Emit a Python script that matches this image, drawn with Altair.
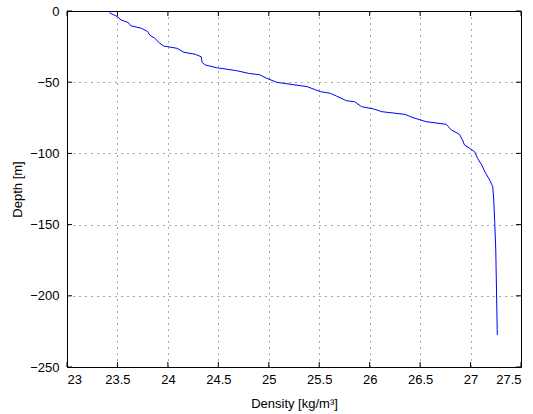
import altair as alt
import pandas as pd

# Density profile: potential density (kg/m^3) against depth (m, negative downward)
density = [
    23.42, 23.50, 23.535, 23.61, 23.63, 23.74, 23.80, 23.82, 23.87, 23.92,
    23.96, 24.09, 24.16, 24.27, 24.33, 24.34, 24.37, 24.48, 24.68, 24.80,
    24.91, 24.98, 25.08, 25.38, 25.51, 25.61, 25.67, 25.77, 25.85, 25.92,
    26.04, 26.12, 26.35, 26.43, 26.56, 26.76, 26.81, 26.89, 26.92, 26.94,
    26.99, 27.04, 27.07, 27.11, 27.15, 27.19, 27.22, 27.23, 27.24, 27.25,
    27.26, 27.265,
]
depth = [
    -1.2, -4.0, -6.3, -8.2, -10.3, -12.2, -14.5, -16.9, -19.2, -22.7,
    -24.6, -26.2, -29.0, -30.4, -32.1, -36.2, -37.9, -39.8, -41.9, -43.8,
    -44.8, -47.3, -50.1, -53.1, -56.6, -57.8, -59.7, -63.0, -63.7, -67.2,
    -68.8, -70.7, -72.6, -74.9, -77.7, -79.6, -83.6, -86.6, -90.6, -94.1,
    -96.4, -98.8, -103.5, -108.1, -114.0, -118.7, -123.4, -132.7, -149.1, -167.8,
    -207.7, -227.5,
]

x_ticks = [23, 23.5, 24, 24.5, 25, 25.5, 26, 26.5, 27, 27.5]
y_ticks = [0, -50, -100, -150, -200, -250]

W, H = 454, 356
FONT = "Liberation Sans"

profile = pd.DataFrame({"density": density, "depth": depth, "idx": range(len(density))})
xt = pd.DataFrame({"t": x_ticks})
yt = pd.DataFrame({"t": y_ticks})

xscale = alt.Scale(domain=[23, 27.5], nice=False, zero=False)
yscale = alt.Scale(domain=[-250, 0], nice=False, zero=False)

axis_common = dict(
    grid=True, gridColor="#000000", gridDash=[1, 5], gridOpacity=0.7, gridWidth=1,
    ticks=False, domain=False,
    labelFont=FONT, labelFontSize=13, labelColor="#000000",
    titleFont=FONT, titleFontSize=13, titleFontWeight="normal", titleColor="#000000",
)

line = alt.Chart(profile).mark_line(color="#0000ff", strokeWidth=1).encode(
    x=alt.X("density:Q", scale=xscale,
            axis=alt.Axis(values=x_ticks, title="Density [kg/m³]", labelPadding=6,
                          format="~g",
                          titleBaseline="alphabetic", titleY=40, titleX=W / 2,
                          **axis_common)),
    y=alt.Y("depth:Q", scale=yscale,
            axis=alt.Axis(values=y_ticks, title="Depth [m]", labelPadding=8,
                          format="d",
                          titleBaseline="alphabetic", titleX=-46, titleY=H / 2,
                          titleAngle=-90, titleAlign="center",
                          **axis_common)),
    order="idx:Q",
)

# inward tick marks on all four sides of the box
tick_len = 5
x_bottom = alt.Chart(xt).mark_rule(color="#000000", strokeWidth=1).encode(
    x=alt.X("t:Q", scale=xscale), y=alt.value(H), y2=alt.value(H - tick_len))
x_top = alt.Chart(xt).mark_rule(color="#000000", strokeWidth=1).encode(
    x=alt.X("t:Q", scale=xscale), y=alt.value(0), y2=alt.value(tick_len))
y_left = alt.Chart(yt).mark_rule(color="#000000", strokeWidth=1).encode(
    y=alt.Y("t:Q", scale=yscale), x=alt.value(0), x2=alt.value(tick_len))
y_right = alt.Chart(yt).mark_rule(color="#000000", strokeWidth=1).encode(
    y=alt.Y("t:Q", scale=yscale), x=alt.value(W), x2=alt.value(W - tick_len))

chart = alt.layer(line, x_bottom, x_top, y_left, y_right).properties(
    width=W, height=H,
    autosize=alt.AutoSizeParams(type="none"),
    padding={"left": 67, "top": 11, "right": 12, "bottom": 47},
    background="#ffffff",
).configure_view(stroke="#000000", strokeWidth=1)

chart.save("out.html", embed_options={"renderer": "svg", "actions": False})
